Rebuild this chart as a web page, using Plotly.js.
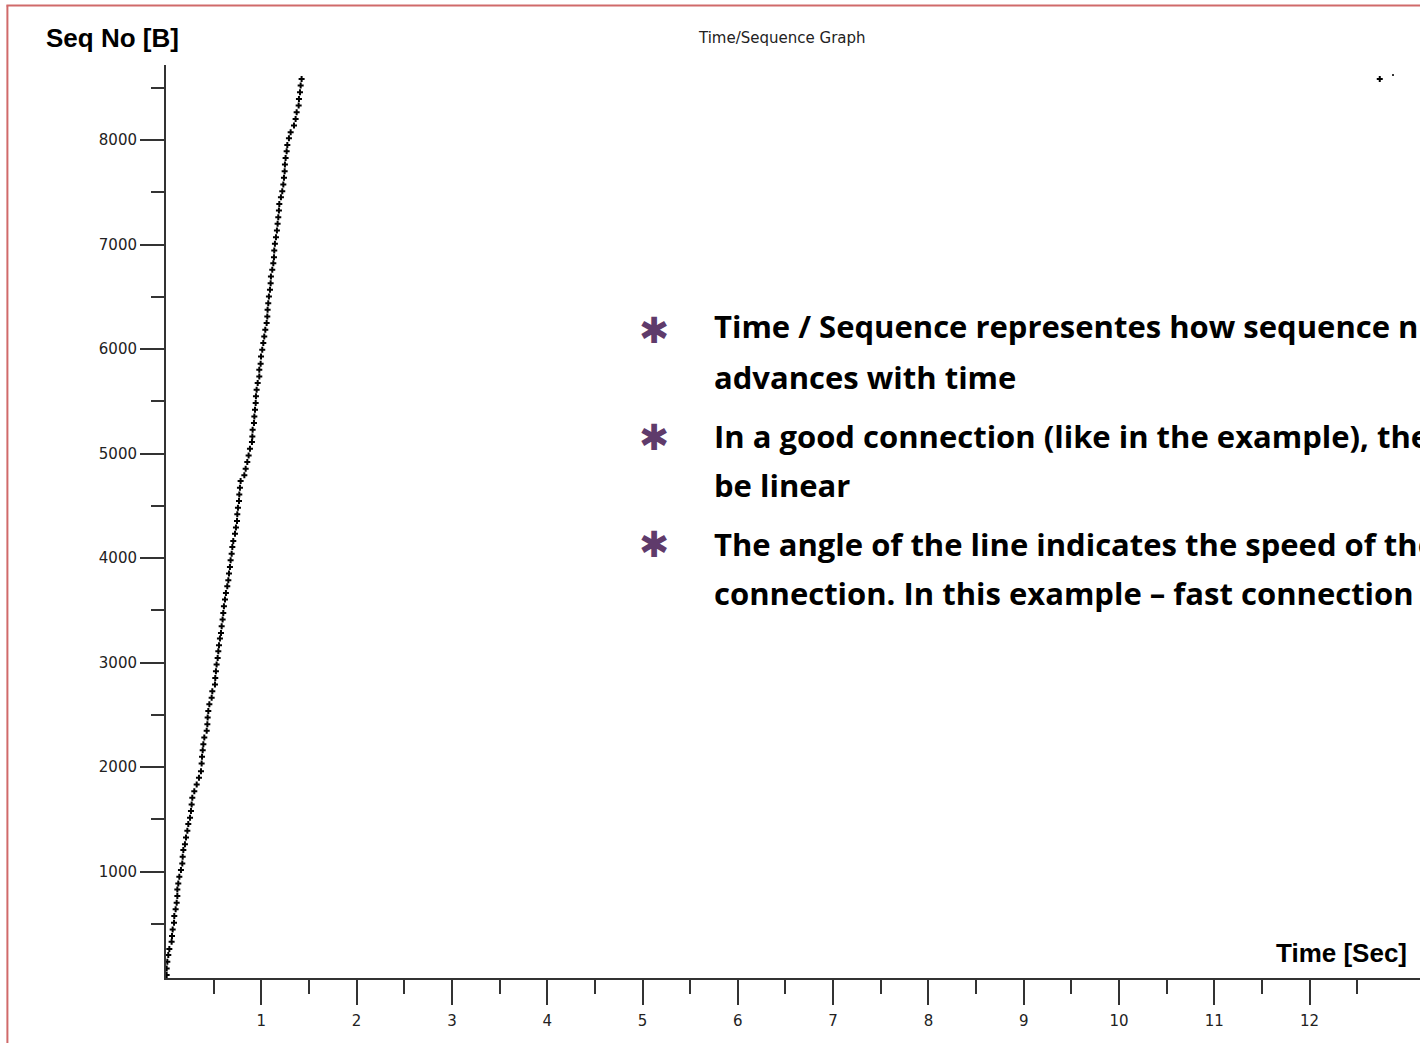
<!DOCTYPE html>
<html>
<head>
<meta charset="utf-8">
<script src="https://cdn.plot.ly/plotly-3.0.1.min.js"></script>
<style>
  html, body { margin: 0; padding: 0; background: #ffffff; overflow: hidden; width: 1420px; height: 1043px; }
  #chart { width: 1700px; height: 1043px; }
</style>
</head>
<body>
<div id="chart"></div>
<script>
// ---- Data (time in seconds, sequence number in bytes) ----
var timeSec = [
  0.007,0.007,0.014,0.024,0.035,0.059,0.063,0.070,0.084,0.087,0.101,0.112,0.119,0.119,0.129,0.140,0.157,0.171,0.175,0.182,
  0.199,0.210,0.224,0.234,0.252,0.262,0.269,0.276,0.297,0.322,0.346,0.367,0.374,0.378,0.385,0.392,0.402,0.427,0.434,0.437,
  0.444,0.455,0.479,0.486,0.514,0.517,0.524,0.531,0.542,0.549,
  0.556,0.566,0.577,0.584,0.594,0.601,0.608,0.619,0.629,0.643,0.654,0.661,0.671,0.678,0.689,0.696,0.706,0.724,0.734,0.745,
  0.748,0.755,0.766,0.769,0.776,0.783,0.822,0.836,0.853,0.867,0.881,0.902,0.906,0.909,0.923,0.927,0.934,0.941,0.944,0.951,
  0.962,0.979,0.979,0.993,
  0.997,1.010,1.021,1.031,1.042,1.056,1.063,1.066,1.073,1.080,1.091,1.098,1.101,1.115,1.126,1.133,1.136,1.143,1.154,1.164,
  1.171,1.178,1.185,1.189,1.206,1.220,1.231,1.238,1.245,1.248,1.255,1.266,1.273,1.290,1.308,1.343,1.360,1.371,1.392,1.395,
  1.406,1.413,1.423
];
var seqNo = [
  10,73,137,201,258,328,383,446,510,574,638,701,765,829,886,950,1014,1077,1141,1205,
  1262,1326,1390,1454,1514,1578,1642,1705,1769,1833,1897,1960,2034,2098,2161,2219,2282,2346,2410,2474,
  2537,2601,2662,2725,2789,2853,2917,2980,3044,3108,
  3165,3229,3283,3347,3411,3475,3538,3602,3666,3730,3787,3851,3915,3978,4042,4106,4163,4233,4291,4354,
  4418,4482,4546,4609,4673,4737,4791,4855,4919,4982,5046,5110,5164,5228,5292,5355,5419,5483,5547,5610,
  5674,5738,5802,5859,
  5929,5993,6057,6120,6184,6248,6312,6375,6439,6503,6567,6630,6694,6758,6822,6879,6943,7007,7070,7134,
  7198,7262,7325,7389,7453,7510,7574,7638,7702,7765,7829,7893,7953,8017,8074,8138,8202,8266,8330,8393,
  8457,8521,8584
];
// isolated late points (top right)
var lateTime = [12.736];
var lateSeq = [8584];
var dotTime = [12.875];
var dotSeq = [8622];

// ---- Ticks ----
var xMajorTicks = [1,2,3,4,5,6,7,8,9,10,11,12];
var xMajorLabels = ['1','2','3','4','5','6','7','8','9','10','11','12'];
var xMinorTicks = [0.5,1.5,2.5,3.5,4.5,5.5,6.5,7.5,8.5,9.5,10.5,11.5,12.5];
var yMajorTicks = [1000,2000,3000,4000,5000,6000,7000,8000];
var yMajorLabels = ['1000','2000','3000','4000','5000','6000','7000','8000'];
var yMinorTicks = [500,1500,2500,3500,4500,5500,6500,7500,8500];

// ---- Texts ----
var chartTitle = 'Time/Sequence Graph';
var yAxisLabel = 'Seq No [B]';
var xAxisLabel = 'Time [Sec]';
var bulletLines = [
  'Time / Sequence representes how sequence number',
  'advances with time',
  'In a good connection (like in the example), the graph should',
  'be linear',
  'The angle of the line indicates the speed of the',
  'connection. In this example \u2013 fast connection'
];
var bulletLineY = [0.7136, 0.6588, 0.5936, 0.5400, 0.4754, 0.4222];
var bulletStarY = [0.7097, 0.5915, 0.4743];

var axisColor = '#333333';
var tickFont = {family: 'DejaVu Sans, sans-serif', size: 15, color: '#222222'};

var traces = [
  {
    x: timeSec, y: seqNo, type: 'scatter', mode: 'markers',
    marker: {symbol: 'cross', size: 5, color: '#000000', line: {width: 0}},
    hoverinfo: 'skip', showlegend: false
  },
  {
    x: lateTime, y: lateSeq, type: 'scatter', mode: 'markers',
    marker: {symbol: 'cross', size: 5, color: '#000000', line: {width: 0}},
    hoverinfo: 'skip', showlegend: false
  },
  {
    x: dotTime, y: dotSeq, type: 'scatter', mode: 'markers',
    marker: {symbol: 'square', size: 2, color: '#333333', line: {width: 0}},
    hoverinfo: 'skip', showlegend: false
  }
];

var annotations = [
  {text: chartTitle, xref: 'paper', yref: 'paper', x: 0.4296, y: 1.0295, xanchor: 'center', yanchor: 'middle',
   showarrow: false, font: {family: 'DejaVu Sans, sans-serif', size: 15, color: '#222222'}},
  {text: '<b>' + yAxisLabel + '</b>', xref: 'paper', yref: 'paper', x: -0.0850, y: 1.0299, xanchor: 'left', yanchor: 'middle',
   showarrow: false, font: {family: 'Liberation Sans, Arial, sans-serif', size: 26, color: '#000000'}},
  {text: '<b>' + xAxisLabel + '</b>', xref: 'paper', yref: 'paper', x: 0.8670, y: 0.0277, xanchor: 'right', yanchor: 'middle',
   showarrow: false, font: {family: 'Liberation Sans, Arial, sans-serif', size: 26, color: '#000000'}}
];
bulletLines.forEach(function (t, i) {
  annotations.push({text: '<b>' + t + '</b>', xref: 'paper', yref: 'paper', x: 0.3808, y: bulletLineY[i],
    xanchor: 'left', yanchor: 'middle', showarrow: false,
    font: {family: 'Open Sans, sans-serif', size: 31, color: '#000000'}});
});
bulletStarY.forEach(function (yy) {
  annotations.push({text: '\u2731', xref: 'paper', yref: 'paper', x: 0.3403, y: yy,
    xanchor: 'center', yanchor: 'middle', showarrow: false,
    font: {family: 'DejaVu Sans, sans-serif', size: 36, color: '#5f3b6b'}});
});

var borderColor = '#d06a6a';
var layout = {
  width: 1700, height: 1043,
  margin: {l: 166, r: 100, t: 65, b: 65, pad: 0},
  paper_bgcolor: '#ffffff', plot_bgcolor: '#ffffff',
  showlegend: false,
  xaxis: {
    range: [0, 15.047], showgrid: false, zeroline: false,
    showline: true, linecolor: axisColor, linewidth: 2,
    ticks: 'outside', ticklen: 25, tickwidth: 2, tickcolor: axisColor,
    tickmode: 'array', tickvals: xMajorTicks, ticktext: xMajorLabels, tickfont: tickFont,
    ticklabelstandoff: 3,
    minor: {tickmode: 'array', tickvals: xMinorTicks, ticks: 'outside', ticklen: 14, tickwidth: 2, tickcolor: axisColor}
  },
  yaxis: {
    range: [-19, 8718], showgrid: false, zeroline: false,
    showline: true, linecolor: axisColor, linewidth: 2,
    ticks: 'outside', ticklen: 24, tickwidth: 2, tickcolor: axisColor,
    tickmode: 'array', tickvals: yMajorTicks, ticktext: yMajorLabels, tickfont: tickFont,
    minor: {tickmode: 'array', tickvals: yMinorTicks, ticks: 'outside', ticklen: 13, tickwidth: 2, tickcolor: axisColor}
  },
  annotations: annotations,
  shapes: [
    {type: 'line', xref: 'paper', yref: 'paper', x0: -0.1106, x1: -0.1106, y0: 1.0652, y1: -0.08,
     line: {color: borderColor, width: 2}},
    {type: 'line', xref: 'paper', yref: 'paper', x0: -0.1113, x1: 1.2, y0: 1.0652, y1: 1.0652,
     line: {color: borderColor, width: 2}}
  ]
};

Plotly.newPlot('chart', traces, layout, {displayModeBar: false, staticPlot: true});
</script>
</body>
</html>
